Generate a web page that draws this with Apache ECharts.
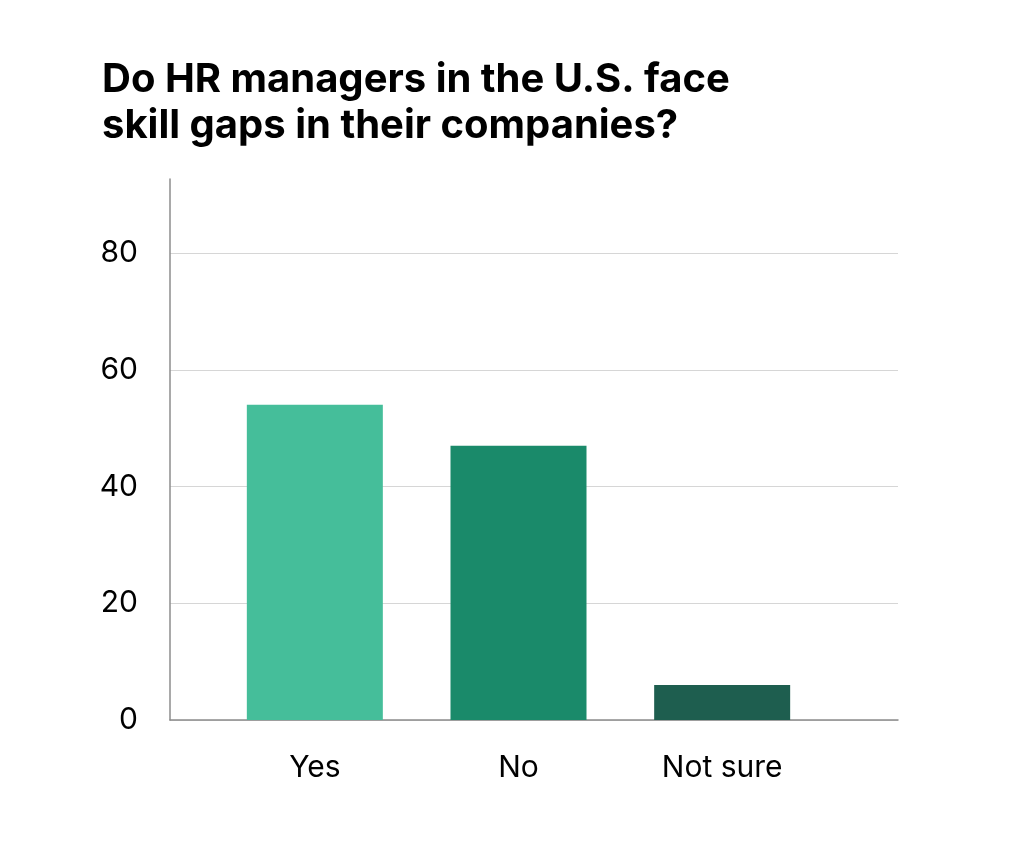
<!DOCTYPE html>
<html>
<head>
<meta charset="utf-8">
<script src="https://cdn.jsdelivr.net/npm/echarts@6/dist/echarts.min.js"></script>
<style>
  html, body { margin: 0; padding: 0; background: #fff; }
  #chart { width: 1024px; height: 854px; }
</style>
</head>
<body>
<div id="chart"></div>
<script>
var titleText = 'Do HR managers in the U.S. face\nskill gaps in their companies?';
var categories = ['Yes', 'No', 'Not sure'];
var values = [54, 47, 6];
var barColors = ['#45be9a', '#1a8a6a', '#1e5e4f'];
var yTicks = [0, 20, 40, 60, 80];

var chart = echarts.init(document.getElementById('chart'));

var option = {
    backgroundColor: '#fff',
    animation: false,
    title: {
        text: titleText,
        left: 97,
        top: 52,
        textStyle: {
            fontFamily: 'Inter',
            fontWeight: 'bold',
            fontSize: 40,
            lineHeight: 46,
            color: '#000'
        }
    },
    // grid 0: axes frame and gridlines, grid 1: bars and category labels
    grid: [
        { left: 170, right: 126, top: 179, bottom: 134 },
        { left: 213, right: 200, top: 179, bottom: 134 }
    ],
    xAxis: [
        {
            gridIndex: 0,
            type: 'category',
            data: categories,
            axisLine: { lineStyle: { color: '#8c8c8c', width: 1.5 } },
            axisTick: { show: false },
            axisLabel: { show: false }
        },
        {
            gridIndex: 1,
            type: 'category',
            data: categories,
            axisLine: { show: false },
            axisTick: { show: false },
            axisLabel: {
                margin: 33,
                fontFamily: 'Inter',
                fontSize: 30,
                color: '#000'
            }
        }
    ],
    yAxis: [
        {
            gridIndex: 0,
            type: 'value',
            min: 0,
            max: 92.7,
            interval: 20,
            axisLine: { show: true, lineStyle: { color: '#8c8c8c', width: 1.5 } },
            axisTick: { show: false },
            splitLine: { show: true, showMaxLine: false, lineStyle: { color: '#d6d6d6', width: 1 } },
            axisLabel: {
                margin: 32,
                showMaxLabel: false,
                fontFamily: 'Inter',
                fontSize: 30,
                color: '#000',
                formatter: function (v) {
                    return yTicks.indexOf(v) >= 0 ? String(v) : '';
                }
            }
        },
        {
            gridIndex: 1,
            type: 'value',
            min: 0,
            max: 92.7,
            show: false
        }
    ],
    series: [
        {
            type: 'bar',
            xAxisIndex: 1,
            yAxisIndex: 1,
            barWidth: 136,
            data: values.map(function (v, i) {
                return { value: v, itemStyle: { color: barColors[i] } };
            })
        }
    ]
};

chart.setOption(option);
</script>
</body>
</html>
